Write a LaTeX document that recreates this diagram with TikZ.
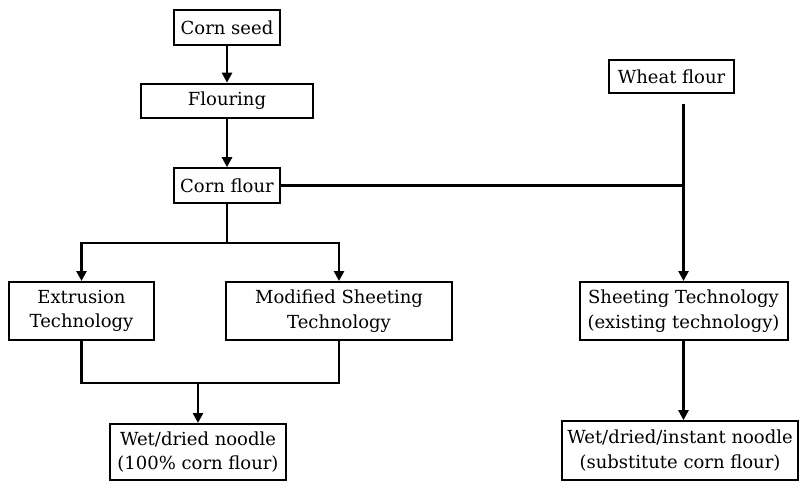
\documentclass[tikz,border=0pt]{standalone}
\usepackage{fontspec}
\setmainfont{DejaVu Serif}
\usetikzlibrary{arrows.meta}

\begin{document}
\begin{tikzpicture}[x=0.75pt, y=-0.75pt,
		box/.style={rectangle, draw=black, line width=1.5pt, align=center,
			inner sep=0pt, font=\fontsize{13.5}{18.5}\selectfont},
		link/.style={draw=black, line width=2.1pt},
		arr/.style={link, -{Triangle[width=7.5pt,length=7.5pt]}}]
				\useasboundingbox (0,0) rectangle (799,482);
				\node (seed) at (227,27.5) [box, minimum width=80pt, minimum height=26pt]
				{Corn seed};
				\node (flouring) at (227,101) [box, minimum width=129pt, minimum height=26pt]
				{Flouring};
				\node (cflour) at (227,185.5) [box, minimum width=80pt, minimum height=26pt]
				{Corn flour};
				\node (wheat) at (671.5,76.5) [box, minimum width=94pt, minimum height=25pt]
				{Wheat flour};
				\node (extr) at (81.5,311) [box, minimum width=109pt, minimum height=43.5pt]
				{Extrusion\\Technology};
				\node (modsh) at (339,311) [box, minimum width=170pt, minimum height=43.5pt]
				{Modified Sheeting\\Technology};
				\node (sheet) at (683.5,311) [box, minimum width=156pt, minimum height=43.5pt]
				{Sheeting Technology\\(existing technology)};
				\node (wet1) at (198,452) [box, minimum width=132pt, minimum height=42pt]
				{Wet/dried noodle\\(100\% corn flour)};
				\node (wet2) at (680,450.5) [box, minimum width=177pt, minimum height=44pt]
				{Wet/dried/instant noodle\\(substitute corn flour)};
				\coordinate (split) at (227,243);
				\coordinate (merge) at (198,383);
				\draw [arr] (seed) -- (flouring);
				\draw [arr] (flouring) -- (cflour);
				\draw [link] (cflour.east) -- (cflour.east -| sheet.north);
				\draw [arr, shorten <=7.5pt] (sheet.north |- wheat.south) -- (sheet.north);
				\draw [link] (cflour.south) -- (split);
				\draw [arr] (split) -| (extr.north);
				\draw [arr] (split) -| (modsh.north);
				\draw [link] (extr.south) |- (modsh.south |- merge) -- (modsh.south);
				\draw [arr] (merge) -- (wet1.north);
				\draw [arr] (sheet.south) -- (sheet.south |- wet2.north);
			\end{tikzpicture}
\end{document}
